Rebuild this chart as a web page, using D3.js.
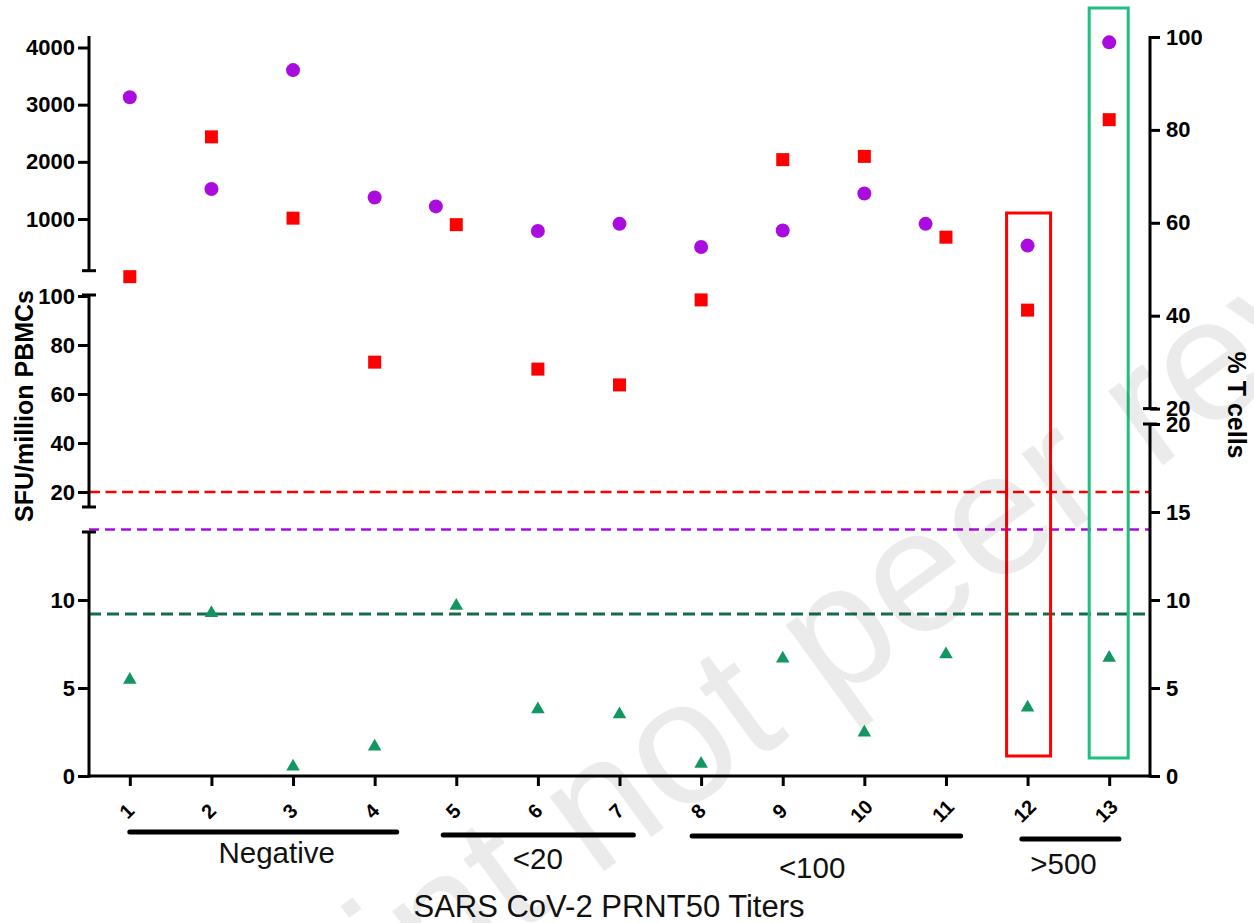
<!DOCTYPE html>
<html>
<head>
<meta charset="utf-8">
<script src="https://cdn.jsdelivr.net/npm/d3@7"></script>
<style>
  html, body { margin: 0; padding: 0; background: #fff; }
  svg { display: block; }
  text { font-family: "Liberation Sans", Arial, sans-serif; }
</style>
</head>
<body>
<svg id="chart" width="1254" height="923"></svg>
<script>
// ---------------- data ----------------
const patients = ["1","2","3","4","5","6","7","8","9","10","11","12","13"];
const patientX = [1,2,3,4,5,6,7,8,9,10,11,12,13];
// purple circles (SFU/million PBMCs, upper left segment), slight dodge on 5 and 11
const circleX   = [1,2,3,4,4.75,6,7,8,9,10,10.75,12,13];
const circleSFU = [3130,1525,3605,1375,1220,790,915,510,800,1445,915,535,4090];
// red squares (% T cells, upper right segment)
const squarePct = [48.4,78.5,61.0,30.0,59.6,28.5,25.1,43.4,73.6,74.3,56.9,41.2,82.2];
// green triangles (lower segment)
const triangleVal = [5.46,9.25,0.53,1.67,9.67,3.79,3.50,0.69,6.67,2.47,6.91,3.89,6.72];
// dashed threshold lines
const redThresholdSFU = 20;     // middle left segment
const purpleThreshold = 14;     // lower segment
const greenThreshold = 9.2;     // lower segment
// tick labels
const leftTopTicks = [1000,2000,3000,4000];
const leftMidTicks = [20,40,60,80,100];
const leftLowTicks = [0,5,10];
const rightTopTicks = [20,40,60,80,100];
const rightLowTicks = [0,5,10,15,20];
// titer groups
const groupLabels = ["Negative","<20","<100",">500"];
const groupFrom   = [1.0, 4.84, 7.89, 11.93];
const groupTo     = [4.27, 7.17, 11.18, 13.12];
const groupLabelAt = [2.80, 6.0, 9.36, 12.44];
const xTitle = "SARS CoV-2 PRNT50 Titers";
const yLeftTitle = "SFU/million PBMCs";
const yRightTitle = "% T cells";
const watermark = "Preprint not peer reviewed";

// ---------------- layout ----------------
const svg = d3.select("#chart");
const AX_L = 89, AX_R = 1150, AX_B = 776;
const x = d3.scaleLinear().domain([0.5, 13.5]).range([AX_L, AX_R]);
const yTopL = d3.scaleLinear().domain([1000, 4000]).range([219, 47.5]);
const yMidL = d3.scaleLinear().domain([20, 100]).range([492, 296]);
const yLow  = d3.scaleLinear().domain([0, 20]).range([AX_B, 424]);
const yTopR = d3.scaleLinear().domain([20, 100]).range([408.6, 37]);

const COL = {
  purple: "#aa0ce0", red: "#ff0000", tri: "#129763",
  darkGreen: "#176b48", boxGreen: "#1fc07f", axis: "#000"
};

// dashed lines
const dashG = svg.append("g");
dashG.append("line").attr("x1", AX_L).attr("x2", AX_R)
  .attr("y1", yMidL(redThresholdSFU)).attr("y2", yMidL(redThresholdSFU))
  .attr("stroke", COL.red).attr("stroke-width", 2.5).attr("stroke-dasharray", "11,5.5");
dashG.append("line").attr("x1", AX_L).attr("x2", AX_R)
  .attr("y1", yLow(purpleThreshold)).attr("y2", yLow(purpleThreshold))
  .attr("stroke", COL.purple).attr("stroke-width", 2.5).attr("stroke-dasharray", "10,6");
dashG.append("line").attr("x1", AX_L).attr("x2", AX_R)
  .attr("y1", yLow(greenThreshold)).attr("y2", yLow(greenThreshold))
  .attr("stroke", COL.darkGreen).attr("stroke-width", 3).attr("stroke-dasharray", "12,6");

// highlight boxes
svg.append("rect").attr("x", x(12) - 21).attr("y", 213).attr("width", 44).attr("height", 543)
  .attr("fill", "none").attr("stroke", COL.red).attr("stroke-width", 3);
svg.append("rect").attr("x", x(13) - 20).attr("y", 8).attr("width", 39).attr("height", 750)
  .attr("fill", "none").attr("stroke", COL.boxGreen).attr("stroke-width", 3);

// points
svg.append("g").selectAll("circle").data(circleSFU).join("circle")
  .attr("cx", (d, i) => x(circleX[i])).attr("cy", d => yTopL(d)).attr("r", 7)
  .attr("fill", COL.purple);
svg.append("g").selectAll("rect").data(squarePct).join("rect")
  .attr("x", (d, i) => x(patientX[i]) - 6.5).attr("y", d => yTopR(d) - 6.5)
  .attr("width", 13).attr("height", 13).attr("fill", COL.red);
const tri = d3.symbol().type(d3.symbolTriangle).size(80);
svg.append("g").selectAll("path").data(triangleVal).join("path")
  .attr("d", tri).attr("transform", (d, i) => `translate(${x(patientX[i])},${yLow(d)})`)
  .attr("fill", COL.tri);

// axes
function styleAxis(g) {
  g.select(".domain").remove();
  g.selectAll(".tick line").attr("stroke", COL.axis).attr("stroke-width", 3);
  g.selectAll(".tick text").attr("font-size", 22).attr("font-weight", "bold").attr("fill", "#000")
    .attr("font-family", '"Liberation Sans", Arial, sans-serif');
}
function segLine(xp, y1, y2) {
  svg.append("line").attr("x1", xp).attr("x2", xp).attr("y1", y1).attr("y2", y2)
    .attr("stroke", COL.axis).attr("stroke-width", 3);
}
function cap(xp, yp) {
  svg.append("line").attr("x1", xp - 7).attr("x2", xp + 7).attr("y1", yp).attr("y2", yp)
    .attr("stroke", COL.axis).attr("stroke-width", 3);
}
// left axis segments
segLine(AX_L, 36, 270.7); cap(AX_L, 270.7);
segLine(AX_L, 295, 507); cap(AX_L, 295); cap(AX_L, 507);
segLine(AX_L, 532, AX_B + 1.5); cap(AX_L, 532);
svg.append("g").attr("transform", `translate(${AX_L},0)`)
  .call(d3.axisLeft(yTopL).tickValues(leftTopTicks).tickSize(11).tickPadding(3).tickFormat(d3.format("d")))
  .call(styleAxis);
svg.append("g").attr("transform", `translate(${AX_L},0)`)
  .call(d3.axisLeft(yMidL).tickValues(leftMidTicks).tickSize(11).tickPadding(3).tickFormat(d3.format("d")))
  .call(styleAxis);
svg.append("g").attr("transform", `translate(${AX_L},0)`)
  .call(d3.axisLeft(yLow).tickValues(leftLowTicks).tickSize(11).tickPadding(3).tickFormat(d3.format("d")))
  .call(styleAxis);
// right axis segments
segLine(AX_R, 36, 408.6); cap(AX_R, 408.6);
segLine(AX_R, 424, AX_B + 1.5); cap(AX_R, 424);
svg.append("g").attr("transform", `translate(${AX_R},0)`)
  .call(d3.axisRight(yTopR).tickValues(rightTopTicks).tickSize(10).tickPadding(6).tickFormat(d3.format("d")))
  .call(styleAxis);
svg.append("g").attr("transform", `translate(${AX_R},0)`)
  .call(d3.axisRight(yLow).tickValues(rightLowTicks).tickSize(10).tickPadding(6).tickFormat(d3.format("d")))
  .call(styleAxis);

// bottom axis
svg.append("line").attr("x1", AX_L - 1.5).attr("x2", AX_R + 1.5).attr("y1", AX_B).attr("y2", AX_B)
  .attr("stroke", COL.axis).attr("stroke-width", 3);
const xAxisG = svg.append("g").attr("transform", `translate(0,${AX_B})`)
  .call(d3.axisBottom(x).tickValues(patientX).tickSize(10).tickFormat(""));
xAxisG.select(".domain").remove();
xAxisG.selectAll(".tick line").attr("stroke", COL.axis).attr("stroke-width", 3);
svg.append("g").selectAll("text").data(patients).join("text")
  .attr("transform", (d, i) => `translate(${x(patientX[i]) - 3},${811}) rotate(-45)`)
  .attr("text-anchor", "middle").attr("dominant-baseline", "central")
  .attr("font-size", 20).attr("font-weight", "bold").text(d => d);

// group bars + labels
const lineY = [832, 835, 836, 839];
const labelY = [863, 869, 878, 874];
svg.append("g").selectAll("line").data(groupLabels).join("line")
  .attr("x1", (d, i) => x(groupFrom[i])).attr("x2", (d, i) => x(groupTo[i]))
  .attr("y1", (d, i) => lineY[i]).attr("y2", (d, i) => lineY[i])
  .attr("stroke", "#000").attr("stroke-width", 5).attr("stroke-linecap", "round");
svg.append("g").selectAll("text").data(groupLabels).join("text")
  .attr("x", (d, i) => x(groupLabelAt[i])).attr("y", (d, i) => labelY[i])
  .attr("text-anchor", "middle").attr("font-size", 29.5).attr("fill", "#111").text(d => d);
svg.append("text").attr("x", 609).attr("y", 917).attr("text-anchor", "middle")
  .attr("font-size", 31).attr("fill", "#111").text(xTitle);

// axis titles
svg.append("text").attr("transform", "translate(33,406) rotate(-90)")
  .attr("text-anchor", "middle").attr("font-size", 25).attr("font-weight", "bold").text(yLeftTitle);
svg.append("text").attr("transform", "translate(1228,405) rotate(90)")
  .attr("text-anchor", "middle").attr("font-size", 25).attr("font-weight", "bold").text(yRightTitle);

// watermark
const fs = 175;
const wm = svg.append("text").attr("font-family", '"Open Sans", sans-serif')
  .attr("font-size", fs).attr("fill", "#000").attr("fill-opacity", 0.08).text(watermark);
const ext = wm.node().getExtentOfChar(13);
const cx = ext.x + ext.width / 2, cy = -0.27 * fs;
wm.attr("transform", `translate(842,640) rotate(-36) translate(${-cx},${-cy})`);
</script>
</body>
</html>
